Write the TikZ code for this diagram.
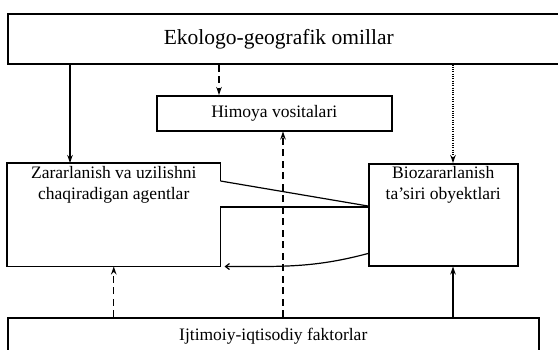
\documentclass[tikz,border=0pt]{standalone}
\usepackage{fontspec}
\setmainfont{Liberation Serif}
\usetikzlibrary{arrows.meta,calc}

\begin{document}
\begin{tikzpicture}[x=1pt,y=-1pt,
    blok/.style={draw,line width=1.5pt,anchor=north west,inner sep=3pt,
      font=\fontsize{17.5}{21}\selectfont},
    lbl/.style={anchor=north,align=center,yshift=0pt,
      font=\fontsize{17.5}{21}\selectfont},
    arr/.style={line width=1.2pt,-{Stealth[length=8pt,width=5.5pt]}},
    strih/.style={dash pattern=on 7pt off 4.5pt},
    nuqta/.style={dash pattern=on 1pt off 1.3pt}]
  \useasboundingbox (0,0) rectangle (558,349);
  \clip (0,0) rectangle (558,349);
  % Ekologo-geografik omillar
  \node[blok,minimum width=600,minimum height=50,
    label={[font=\fontsize{21.5}{25}\selectfont,xshift=-29pt]center:Ekologo-geografik omillar}]
    (eko) at (7,13) {};
  % Himoya vositalari
  \node[blok,minimum width=235,minimum height=35] (himoya) at (156,95) {Himoya vositalari};
  % agentlar
  \node[blok,draw=none,minimum width=212,minimum height=102,
    label={[lbl]north:Zararlanish va uzilishni\\chaqiradigan agentlar}] (zarar) at (7,163) {};
  % obyektlar
  \node[blok,minimum width=149,minimum height=102,
    label={[lbl]north:Biozararlanish\\ta'siri obyektlari}] (bio) at (368,163) {};
  % Ijtimoiy-iqtisodiy faktorlar
  \node[blok,minimum width=531,minimum height=36] (ijt) at (7,317) {Ijtimoiy-iqtisodiy faktorlar};

  % agentlar <-> obyektlar
  \draw[line width=1.5pt] ($(zarar.north east)+(0,18)$) -- (zarar.north east)
    -- (zarar.north west) -- (zarar.south west) -- (zarar.south east)
    -- ($(zarar.north east)+(0,44)$) -- ($(bio.north west)+(0,44)$);
  \draw[line width=1.2pt] ($(zarar.north east)+(0,18)$) -- ($(bio.north west)+(0,43)$);
  \draw[line width=1.2pt,-{Straight Barb[length=4pt,width=6pt]}]
    ($(bio.south west)+(0,-13)$) to[out=195,in=0] ($(zarar.south east)+(4,0)$);

  % strelkalar
  \coordinate (xa) at (70,0);
  \coordinate (xb) at (219,0);
  \coordinate (xc) at (453,0);
  \coordinate (xd) at (283,0);
  \draw[arr] (xa |- eko.south) -- (xa |- zarar.north);
  \draw[arr,strih] (xb |- eko.south) -- (xb |- himoya.north);
  \draw[arr,nuqta] (xc |- eko.south) -- (xc |- bio.north);
  \draw[arr,strih] (zarar.south |- ijt.north) -- (zarar.south);
  \draw[arr,strih] (xd |- ijt.north) -- (xd |- himoya.south);
  \draw[arr] (xc |- ijt.north) -- (xc |- bio.south);
\end{tikzpicture}
\end{document}
